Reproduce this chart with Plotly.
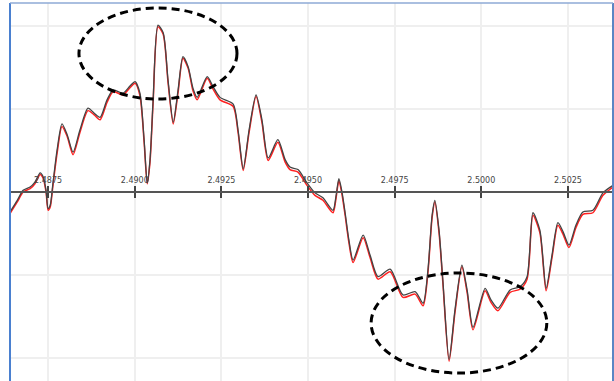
import plotly.graph_objects as go

# ---- data ----
x_vals = [2.48640, 2.48661, 2.48678, 2.48698, 2.48712, 2.48727, 2.48736, 2.48744, 2.48750, 2.48756,
          2.48764, 2.48776, 2.48790, 2.48805, 2.48822, 2.48842, 2.48865, 2.48883, 2.48900, 2.48920,
          2.48938, 2.48966, 2.48987, 2.49001, 2.49015, 2.49027, 2.49036, 2.49044, 2.49053, 2.49067,
          2.49082, 2.49096, 2.49111, 2.49125, 2.49139, 2.49154, 2.49168, 2.49180, 2.49209, 2.49226,
          2.49246, 2.49284, 2.49298, 2.49313, 2.49330, 2.49350, 2.49367, 2.49385, 2.49413, 2.49434,
          2.49448, 2.49471, 2.49497, 2.49520, 2.49543, 2.49572, 2.49581, 2.49589, 2.49598, 2.49607,
          2.49618, 2.49630, 2.49659, 2.49679, 2.49702, 2.49737, 2.49774, 2.49809, 2.49832, 2.49846,
          2.49858, 2.49866, 2.49878, 2.49889, 2.49907, 2.49924, 2.49944, 2.49959, 2.49976, 2.50011,
          2.50028, 2.50048, 2.50083, 2.50112, 2.50132, 2.50149, 2.50169, 2.50187, 2.50204, 2.50221,
          2.50236, 2.50253, 2.50273, 2.50293, 2.50322, 2.50351, 2.50380]

black_y = [-0.24, -0.10, 0.02, 0.06, 0.12, 0.23, 0.18, 0.02, -0.20, -0.16,
           0.11, 0.51, 0.82, 0.69, 0.48, 0.75, 1.01, 0.95, 0.90, 1.11,
           1.23, 1.19, 1.28, 1.33, 1.19, 0.63, 0.11, 0.39, 1.11, 2.01,
           1.92, 1.35, 0.84, 1.23, 1.63, 1.51, 1.25, 1.14, 1.39, 1.27,
           1.14, 1.06, 0.75, 0.28, 0.75, 1.17, 0.87, 0.41, 0.63, 0.39,
           0.30, 0.27, 0.11, -0.01, -0.07, -0.22, -0.04, 0.16, 0.00, -0.25,
           -0.58, -0.82, -0.52, -0.76, -1.02, -0.93, -1.24, -1.20, -1.34, -0.94,
           -0.28, -0.10, -0.46, -1.06, -2.02, -1.42, -0.88, -1.18, -1.63, -1.16,
           -1.30, -1.40, -1.18, -1.14, -1.02, -0.25, -0.46, -1.16, -0.76, -0.37,
           -0.48, -0.64, -0.40, -0.24, -0.22, -0.01, 0.08]

red_y = [-0.26, -0.12, 0.00, 0.04, 0.10, 0.21, 0.16, 0.00, -0.22, -0.18,
         0.08, 0.47, 0.79, 0.67, 0.45, 0.72, 0.98, 0.93, 0.87, 1.08,
         1.21, 1.17, 1.26, 1.31, 1.16, 0.60, 0.10, 0.36, 1.08, 1.99,
         1.90, 1.32, 0.82, 1.20, 1.61, 1.49, 1.22, 1.11, 1.37, 1.24,
         1.11, 1.03, 0.72, 0.26, 0.72, 1.15, 0.84, 0.38, 0.60, 0.36,
         0.27, 0.24, 0.08, -0.04, -0.10, -0.25, -0.07, 0.14, -0.03, -0.28,
         -0.61, -0.85, -0.55, -0.79, -1.05, -0.96, -1.27, -1.23, -1.37, -0.97,
         -0.31, -0.12, -0.49, -1.09, -2.04, -1.45, -0.90, -1.21, -1.66, -1.19,
         -1.33, -1.43, -1.21, -1.17, -1.05, -0.28, -0.49, -1.19, -0.79, -0.40,
         -0.51, -0.67, -0.43, -0.27, -0.25, -0.04, 0.06]

tick_vals = [2.4875, 2.4900, 2.4925, 2.4950, 2.4975, 2.5000, 2.5025]
tick_text = ["2.4875", "2.4900", "2.4925", "2.4950", "2.4975", "2.5000", "2.5025"]
y_grid = [-2, -1, 0, 1, 2]

x_range = [2.48640, 2.50380]
y_range = [-2.277, 2.277]

# ellipse highlights (data coordinates)
upper_ellipse = dict(x0=2.48839, x1=2.49295, y0=1.12, y1=2.217)
lower_ellipse = dict(x0=2.49682, x1=2.50189, y0=-2.181, y1=-0.976)

fig = go.Figure()
fig.add_trace(go.Scatter(x=x_vals, y=red_y, mode="lines",
                         line=dict(color="#ff2020", width=1.5, shape="spline", smoothing=0.7),
                         hoverinfo="skip", showlegend=False))
fig.add_trace(go.Scatter(x=x_vals, y=black_y, mode="lines",
                         line=dict(color="#444444", width=1.3, shape="spline", smoothing=0.7),
                         hoverinfo="skip", showlegend=False))
# invisible trace to activate second x axis (bottom-side tick marks)
fig.add_trace(go.Scatter(x=[x_range[0]], y=[0], xaxis="x2", mode="markers",
                         marker=dict(opacity=0), hoverinfo="skip", showlegend=False))

for e in (upper_ellipse, lower_ellipse):
    fig.add_shape(type="circle", xref="x", yref="y", **e,
                  line=dict(color="black", width=3, dash="8px,5px"))

# frame lines
fig.add_shape(type="line", xref="paper", yref="paper", x0=0, x1=0, y0=0, y1=1,
              line=dict(color="#4a80d0", width=2))
fig.add_shape(type="line", xref="paper", yref="paper", x0=1, x1=1, y0=0, y1=1,
              line=dict(color="#5a86c4", width=2))
fig.add_shape(type="line", xref="paper", yref="paper", x0=0, x1=1, y0=1, y1=1,
              line=dict(color="#8eaad6", width=1.5))

fig.update_layout(
    width=614, height=381,
    margin=dict(l=10, r=1, t=3, b=0),
    paper_bgcolor="white", plot_bgcolor="white",
    font=dict(family="DejaVu Sans", size=8, color="#444444"),
    xaxis=dict(range=x_range, tickvals=tick_vals, ticktext=tick_text,
               side="top", anchor="free", position=0.5,
               ticks="outside", ticklen=5, tickwidth=1.5, tickcolor="#444444",
               showline=True, linecolor="#555555", linewidth=1.5,
               showgrid=True, gridcolor="#efefef", gridwidth=2,
               zeroline=False, tickfont=dict(size=8, color="#444444")),
    xaxis2=dict(range=x_range, overlaying="x", tickvals=tick_vals,
                side="bottom", anchor="free", position=0.5,
                ticks="outside", ticklen=5, tickwidth=1.5, tickcolor="#444444",
                showticklabels=False, showgrid=False, showline=False, zeroline=False),
    yaxis=dict(range=y_range, tickvals=y_grid, showticklabels=False,
               showgrid=True, gridcolor="#efefef", gridwidth=2,
               zeroline=False, showline=False, ticks=""),
)

fig.write_html("out.html", config={"displayModeBar": False},
               post_script="document.body.style.margin='0';")
